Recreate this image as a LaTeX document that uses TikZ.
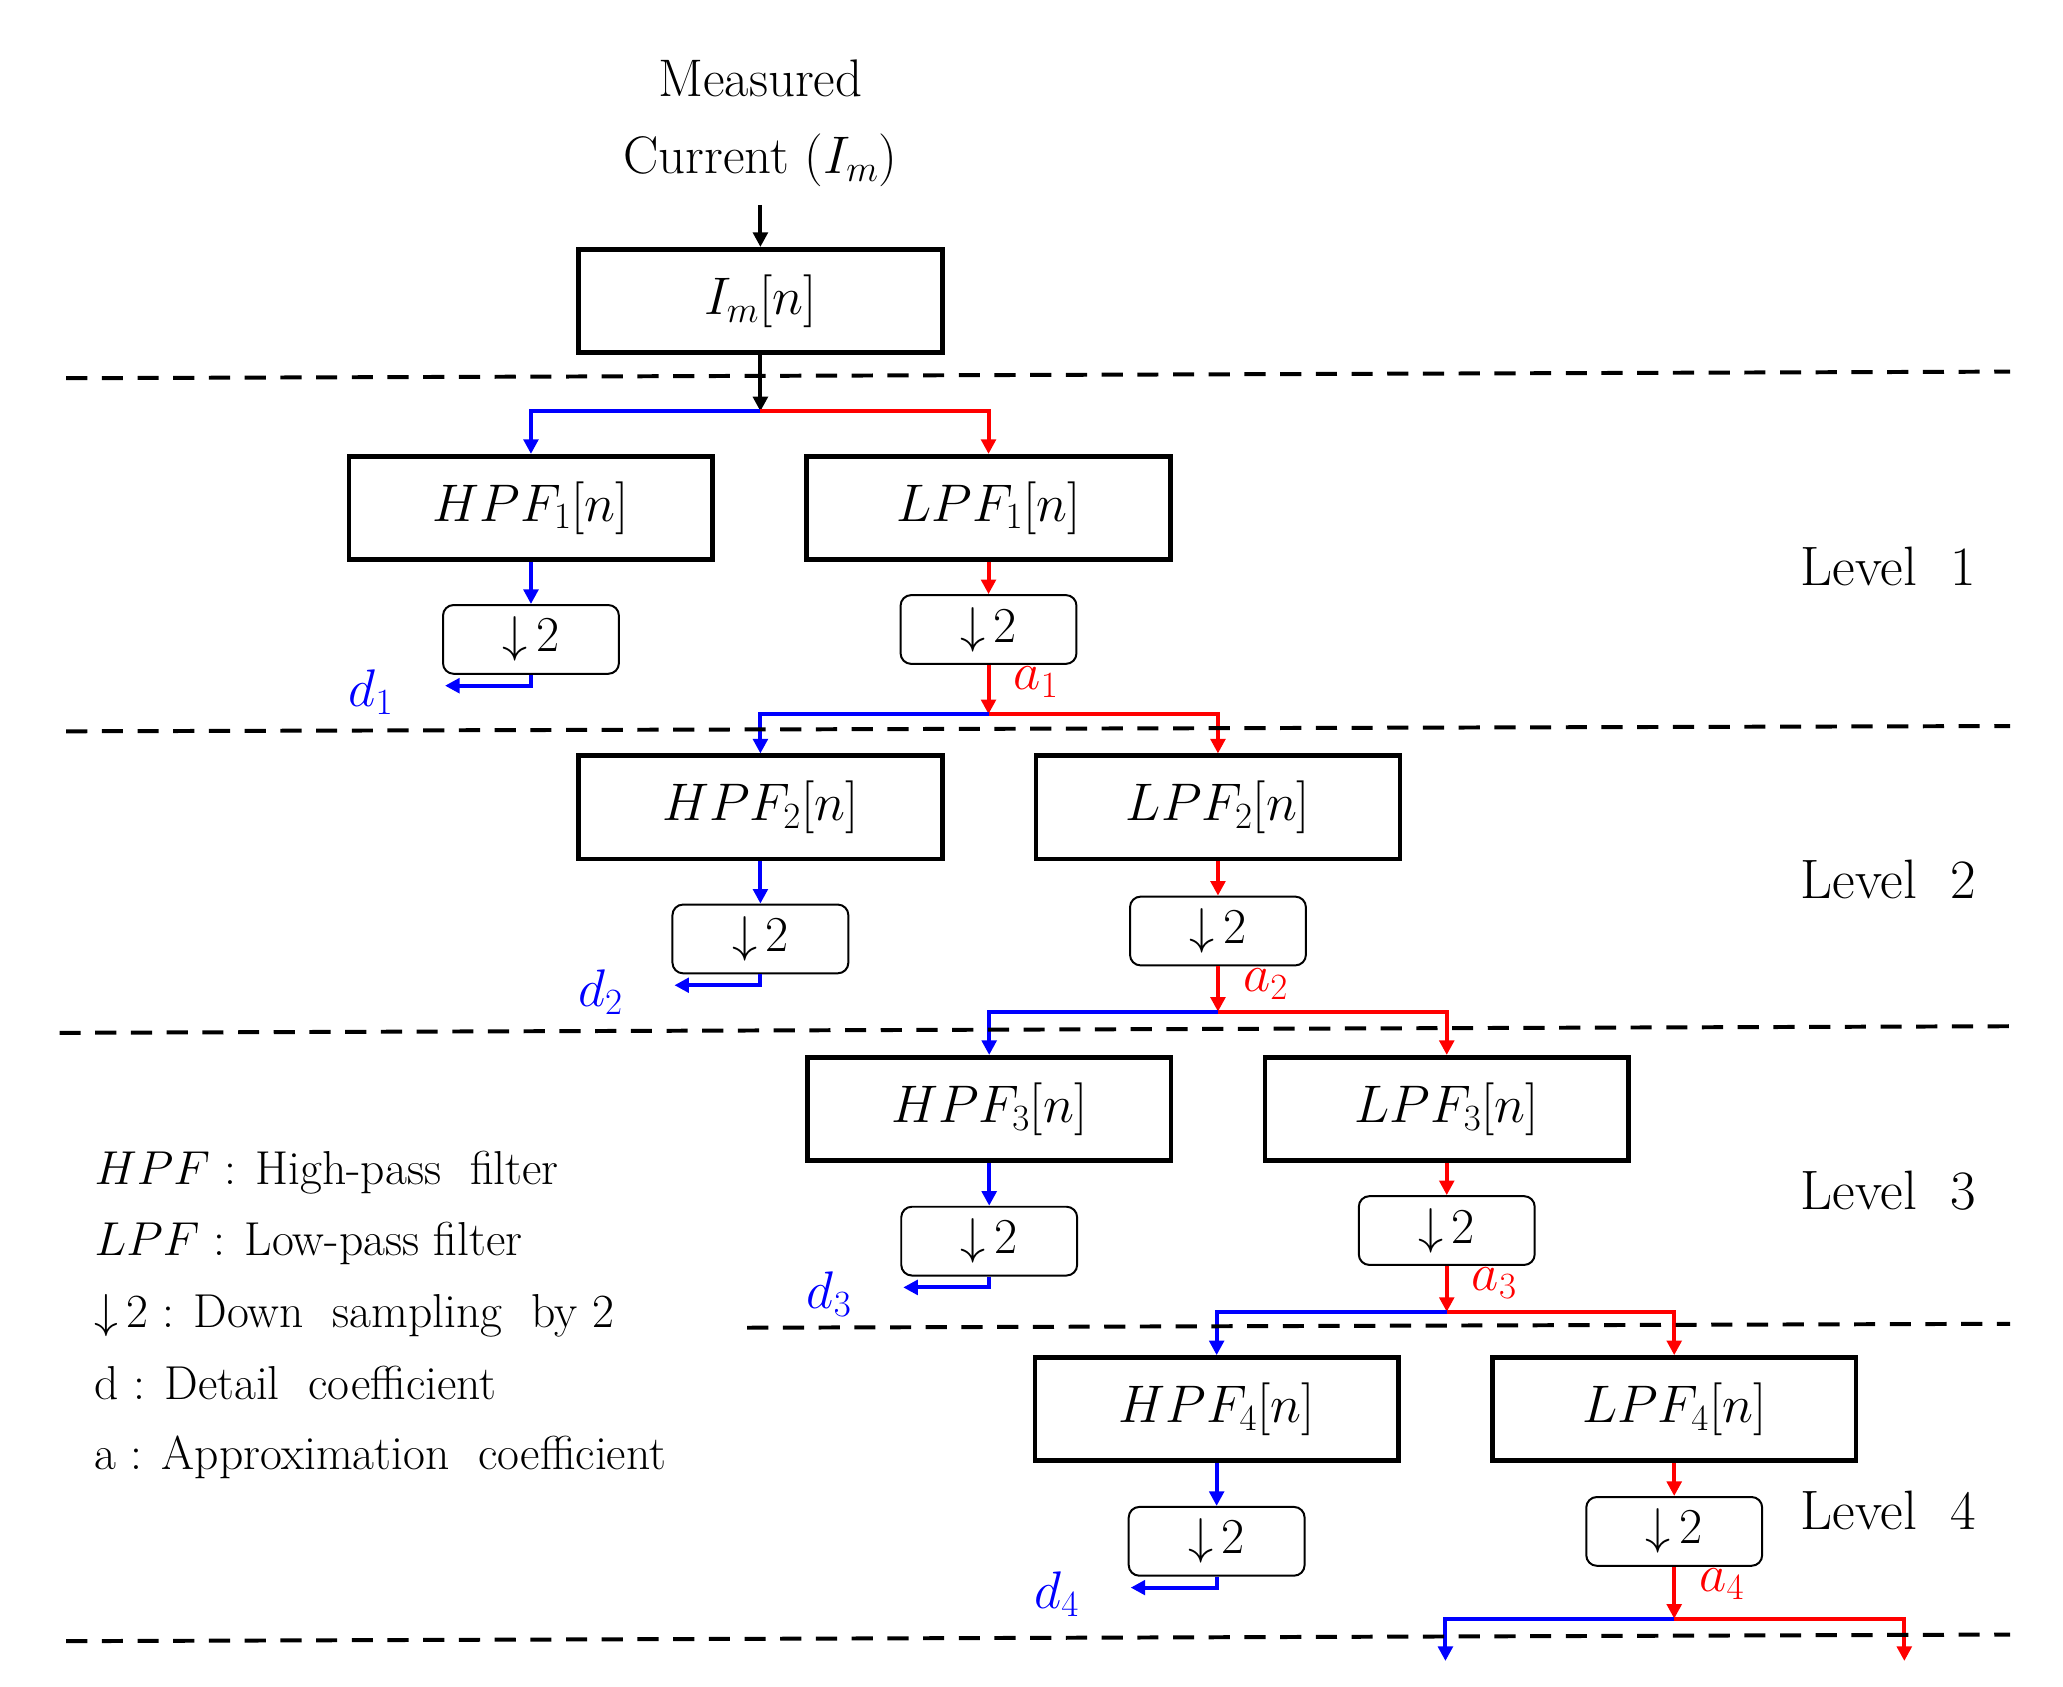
\RequirePackage{fix-cm}
\documentclass[tikz,border=0pt]{standalone}
\usetikzlibrary{arrows.meta}
\begin{document}
\begin{tikzpicture}[x=1pt,y=-1pt,
  filt/.style={draw,line width=3.5pt,minimum width=275pt,minimum height=78pt,inner sep=0pt,font=\fontsize{40}{46}\selectfont},
  ds/.style={draw,line width=1.5pt,rounded corners=8pt,minimum width=133pt,minimum height=52pt,inner sep=0pt,font=\fontsize{38}{44}\selectfont},
  arr/.style={line width=3pt,-{Triangle[length=11pt,width=11pt]}},
  sep/.style={line width=3pt,dash pattern=on 16pt off 11pt},
  lvl/.style={font=\fontsize{42}{48}\selectfont,anchor=west},
  leg/.style={font=\fontsize{36}{42}\selectfont,anchor=west}]
\useasboundingbox (0,0) rectangle (1560,1275);
\node[align=center,font=\fontsize{40}{58}\selectfont] (title) at (575,93) {Measured\\Current $(I_m)$};
\node[filt] (im) at (575,227.5) {$I_m[n]$};
\coordinate (t0) at (575,155);
\draw[arr] (t0) -- (im.north);
\coordinate (s0) at (575,311);
\draw[arr] (im.south) -- (s0);
\foreach \k/\hc/\lc/\by/\hdy/\ldy/\sy in {1/401.5/747.5/384/483.5/476/540, 2/575/921/610.5/710/704/765, 3/748/1094/838.5/938.5/930.5/992, 4/920/1266/1065.5/1165.5/1158/1224}{
  \node[filt] (h\k) at (\hc,\by) {$HPF_{\k}[n]$};
  \node[filt] (l\k) at (\lc,\by) {$LPF_{\k}[n]$};
  \node[ds] (hd\k) at (\hc,\hdy) {$\downarrow$\,2};
  \node[ds] (ld\k) at (\lc,\ldy) {$\downarrow$\,2};
  \draw[arr,blue] (h\k.south) -- (hd\k.north);
  \draw[arr,red] (l\k.south) -- (ld\k.north);
  \coordinate (d\k) at (\hc-65,\hdy+35);
  \draw[arr,blue] (hd\k.south) |- (d\k);
  \node[blue,font=\fontsize{40}{46}\selectfont] (dl\k) at (\hc-121,\hdy+40) {$d_{\k}$};
  \coordinate (s\k) at (\lc,\sy);
  \draw[arr,red] (ld\k.south) -- (s\k);
  \node[red,font=\fontsize{40}{46}\selectfont] (al\k) at (\lc+36,\ldy+40) {$a_{\k}$};
}
\draw[arr,blue] (s0) -| (h1.north);
\draw[arr,red] (s0) -| (l1.north);
\foreach \k/\n in {1/2,2/3,3/4}{
  \draw[arr,blue] (s\k) -| (h\n.north);
  \draw[arr,red] (s\k) -| (l\n.north);
}
\coordinate (e4b) at (1093,1256);
\coordinate (e4r) at (1440,1256);
\draw[arr,blue] (s4) -| (e4b);
\draw[arr,red] (s4) -| (e4r);
\draw[sep] (50,286) -- (1520,281);
\draw[sep] (50,553) -- (1520,549);
\draw[sep] (45,781) -- (1520,776);
\draw[sep] (565,1004) -- (1520,1001);
\draw[sep] (50,1241) -- (1520,1236);
\node[lvl] (L1) at (1358,428) {Level\ \ 1};
\node[lvl] (L2) at (1358,665) {Level\ \ 2};
\node[lvl] (L3) at (1358,900) {Level\ \ 3};
\node[lvl] (L4) at (1358,1142) {Level\ \ 4};
\node[leg] (g1) at (68,887) {$HPF$ : High-pass\ \ filter};
\node[leg] (g2) at (68,940) {$LPF$ : Low-pass filter};
\node[leg] (g3) at (68,995) {$\downarrow$\,2 : Down\ \ sampling\ \ by 2};
\node[leg] (g4) at (68,1046) {d : Detail\ \ coefficient};
\node[leg] (g5) at (68,1102) {a : Approximation\ \ coefficient};
\end{tikzpicture}
\end{document}
